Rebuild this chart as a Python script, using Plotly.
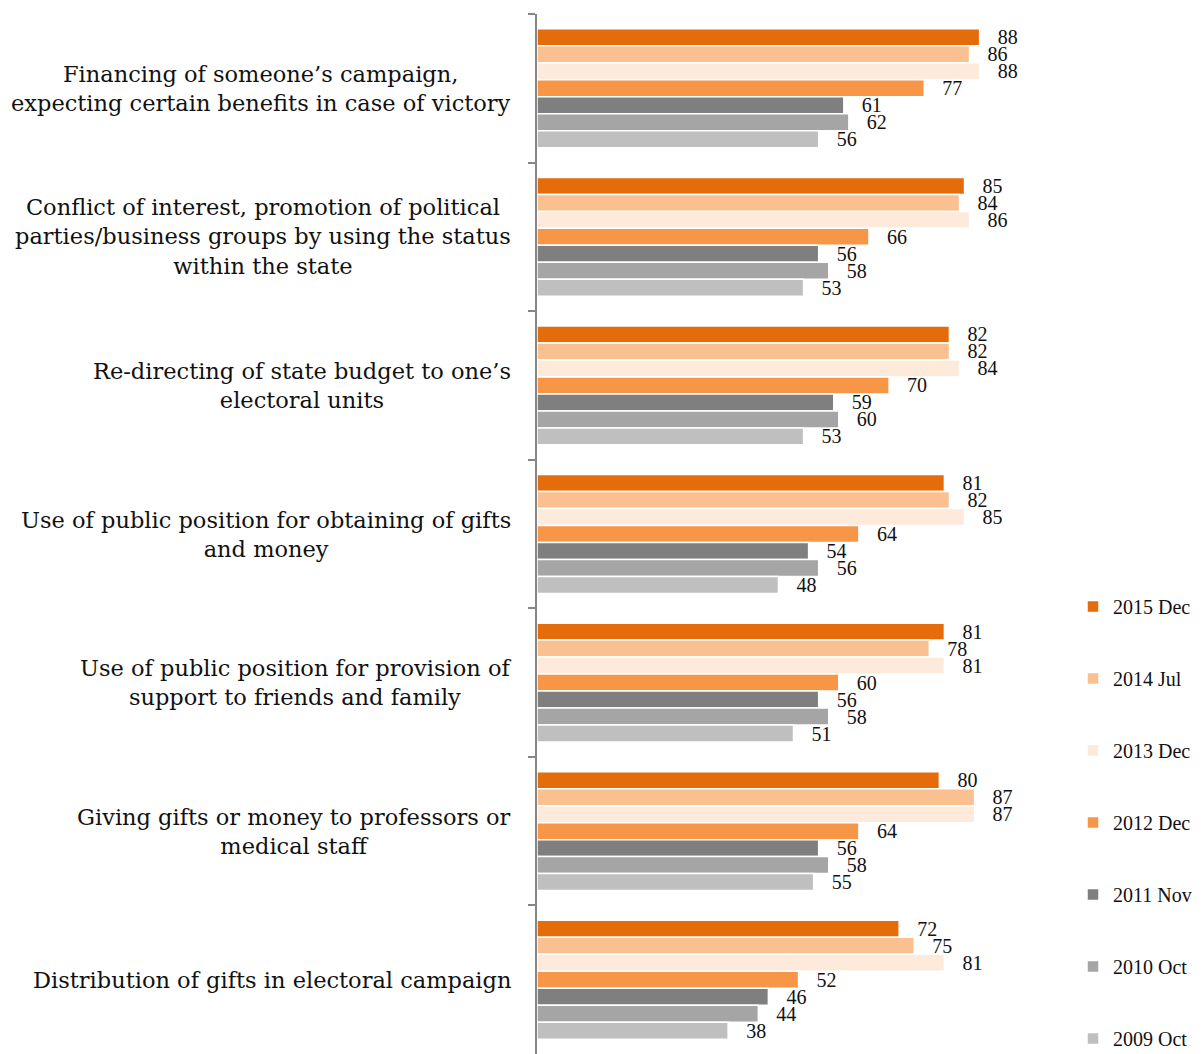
import plotly.graph_objects as go

# Survey items (top to bottom)
categories = [
    "Financing of someone’s campaign,<br>expecting certain benefits in case of victory",
    "Conflict of interest, promotion of political<br>parties/business groups by using the status<br>within the state",
    "Re-directing of state budget to one’s<br>electoral units",
    "Use of public position for obtaining of gifts<br>and money",
    "Use of public position for provision of<br>support to friends and family",
    "Giving gifts or money to professors or<br>medical staff",
    "Distribution of gifts in electoral campaign",
]

# Survey waves, newest first
waves = ["2015 Dec", "2014 Jul", "2013 Dec", "2012 Dec", "2011 Nov", "2010 Oct", "2009 Oct"]

dec_2015 = [88, 85, 82, 81, 81, 80, 72]
jul_2014 = [86, 84, 82, 82, 78, 87, 75]
dec_2013 = [88, 86, 84, 85, 81, 87, 81]
dec_2012 = [77, 66, 70, 64, 60, 64, 52]
nov_2011 = [61, 56, 59, 54, 56, 56, 46]
oct_2010 = [62, 58, 60, 56, 58, 58, 44]
oct_2009 = [56, 53, 53, 48, 51, 55, 38]

series = [dec_2015, jul_2014, dec_2013, dec_2012, nov_2011, oct_2010, oct_2009]
colors = ["#E46C0A", "#FAC090", "#FDEADA", "#F79646", "#7F7F7F", "#A5A5A5", "#BFBFBF"]

SERIF = "Liberation Serif"
LABEL_SERIF = "DejaVu Serif"
NBSP = "\u00a0"

fig = go.Figure()
for name, vals, col in zip(waves, series, colors):
    fig.add_trace(go.Bar(
        y=categories,
        x=vals,
        name=name,
        orientation="h",
        legendgroup=name,
        marker=dict(color=col, line=dict(color="white", width=1.5)),
        texttemplate=NBSP * 3 + "%{x}",
        textposition="outside",
        constraintext="none",
        cliponaxis=False,
        textfont=dict(family=SERIF, size=20, color="#111111"),
        hoverinfo="x+name",
    ))

# Category labels, centred line by line to the left of the axis
for cat in categories:
    fig.add_annotation(
        x=-24 / 503, xref="paper", xanchor="right",
        y=cat, yref="y", yanchor="middle",
        text=cat, align="center", showarrow=False,
        font=dict(family=LABEL_SERIF, size=22.5, color="#111111"),
    )

fig.update_layout(
    width=1204, height=1054,
    margin=dict(l=537, r=164, t=14, b=0),
    paper_bgcolor="white", plot_bgcolor="white",
    barmode="group", bargap=0.2, bargroupgap=0,
    font=dict(family=SERIF, color="#111111"),
    showlegend=True,
    legend=dict(
        xref="container", yref="container",
        x=1073 / 1204, xanchor="left",
        y=(1054 - 587) / 1054, yanchor="top",
        traceorder="grouped",
        tracegroupgap=43,
        itemwidth=30,
        font=dict(family=SERIF, size=20, color="#111111"),
        bgcolor="rgba(0,0,0,0)",
    ),
    xaxis=dict(range=[0, 100], visible=False),
    yaxis=dict(
        autorange="reversed",
        showticklabels=False,
        tickson="boundaries",
        ticks="outside", ticklen=7, tickwidth=1.5, tickcolor="#868686",
        showline=True, linecolor="#868686", linewidth=2,
        showgrid=False, zeroline=False,
    ),
)

fig.write_html("out.html")
